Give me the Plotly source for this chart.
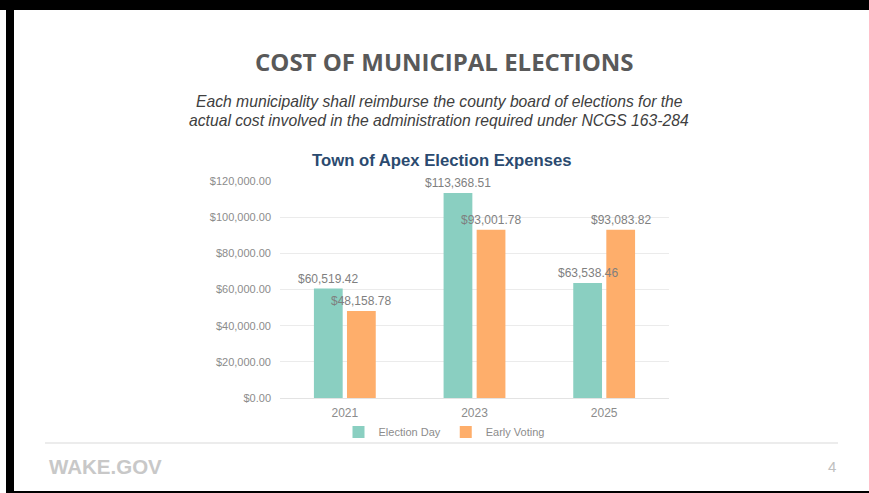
import plotly.graph_objects as go

W, H = 869, 493
years = ["2021", "2023", "2025"]
election_day = [60519.42, 113368.51, 63538.46]
early_voting = [48158.78, 93001.78, 93083.82]
y_ticks = [0, 20000, 40000, 60000, 80000, 100000, 120000]
y_tick_labels = ["$" + f"{v:,.2f}" for v in y_ticks]

BARGAP = 0.49
BARGROUPGAP = 0.13

def fx(px):
    return px / W

def fy(py):
    return 1 - py / H

def money(v):
    return "$" + f"{v:,.2f}"

label_font = dict(color="#7F7F7F", size=12, family="Arial, Liberation Sans")

fig = go.Figure()
fig.add_trace(go.Bar(
    x=years, y=election_day, name="Election Day",
    marker=dict(color="#8ACFC1", line=dict(width=0)),
    hovertext=[money(v) for v in election_day],
))
fig.add_trace(go.Bar(
    x=years, y=early_voting, name="Early Voting",
    marker=dict(color="#FEAE6B", line=dict(width=0)),
    hovertext=[money(v) for v in early_voting],
))

fig.update_layout(
    width=W, height=H,
    margin=dict(l=0, r=0, t=0, b=0, pad=0, autoexpand=False),
    paper_bgcolor="white", plot_bgcolor="white",
    barmode="group", bargap=BARGAP, bargroupgap=BARGROUPGAP,
    font=dict(family="Arial, Liberation Sans", color="#8C8C8C"),
    xaxis=dict(domain=[fx(280), fx(669)], showgrid=False,
               showline=True, linecolor="#E3E3E3", linewidth=1,
               ticks="", tickfont=dict(size=12, color="#8C8C8C"),
               ticklabelstandoff=4, automargin=False),
    yaxis=dict(domain=[fy(398), fy(181)], range=[0, 120000],
               tickvals=y_ticks, ticktext=y_tick_labels,
               showgrid=True, gridcolor="#EBEBEB", gridwidth=1,
               zeroline=False, showline=False, ticks="",
               tickfont=dict(size=11, color="#8C8C8C"),
               ticklabelstandoff=8, automargin=False),
    showlegend=True,
    legend=dict(orientation="h", x=fx(444), y=fy(432), xanchor="center",
                yanchor="middle", font=dict(size=11, color="#8C8C8C"),
                itemwidth=30, traceorder="normal", bgcolor="rgba(0,0,0,0)"),
)

# data labels above bars (drawn on top of all bars)
slot = (1 - BARGAP) / 2
annotations = []
for i, (a, b) in enumerate(zip(election_day, early_voting)):
    for off, v in ((-slot / 2, a), (slot / 2, b)):
        annotations.append(dict(
            text=money(v), x=i + off, y=v, xref="x", yref="y",
            xanchor="center", yanchor="bottom", yshift=1,
            showarrow=False, font=label_font))

texts = [
    dict(text="<b>COST OF MUNICIPAL ELECTIONS</b>", x=fx(444), y=fy(61),
         font=dict(family="Open Sans", size=24, color="#595959")),
    dict(text="<i>Each municipality shall reimburse the county board of elections for the</i>",
         x=fx(439), y=fy(101), font=dict(family="Arial, Liberation Sans", size=15.7, color="#404040")),
    dict(text="<i>actual cost involved in the administration required under NCGS 163-284</i>",
         x=fx(439), y=fy(120), font=dict(family="Arial, Liberation Sans", size=15.7, color="#404040")),
    dict(text="<b>Town of Apex Election Expenses</b>", x=fx(442), y=fy(160),
         font=dict(family="Arial, Liberation Sans", size=16.7, color="#2B4A6F")),
    dict(text="<b>WAKE.GOV</b>", x=fx(47), y=fy(466), xanchor="left",
         font=dict(family="Arial, Liberation Sans", size=20.5, color="#C8C8C8")),
    dict(text="4", x=fx(838), y=fy(466), xanchor="right",
         font=dict(family="Arial, Liberation Sans", size=15, color="#C0C0C0")),
]
for a in texts:
    a.setdefault("xanchor", "center")
    a.update(xref="paper", yref="paper", yanchor="middle", showarrow=False)
fig.update_layout(annotations=annotations + texts)

shapes = [
    dict(type="rect", x0=0, x1=1, y0=fy(10), y1=1, fillcolor="black", line=dict(width=0)),
    dict(type="rect", x0=fx(6), x1=fx(14), y0=0, y1=1, fillcolor="black", line=dict(width=0)),
    dict(type="rect", x0=fx(6), x1=1, y0=0, y1=fy(491), fillcolor="black", line=dict(width=0)),
    dict(type="line", x0=fx(45), x1=fx(838), y0=fy(443), y1=fy(443),
         line=dict(color="#E6E6E6", width=1.5)),
]
for s in shapes:
    s.update(xref="paper", yref="paper", layer="above")
fig.update_layout(shapes=shapes)

fig.write_html("out.html")
